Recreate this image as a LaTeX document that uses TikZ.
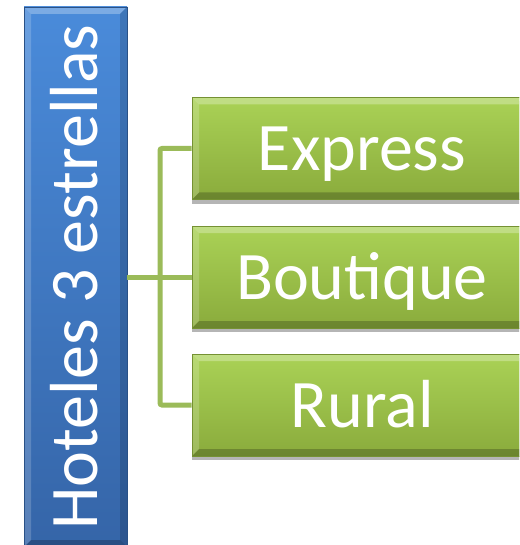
\documentclass[tikz,border=0pt]{standalone}
\usepackage{fontspec}
\setmainfont{Carlito}
\usetikzlibrary{shadows}
\definecolor{blueT}{HTML}{4A8BDA}
\definecolor{blueB}{HTML}{3565A8}
\definecolor{greenT}{HTML}{AAD256}
\definecolor{greenB}{HTML}{8AAB3C}
\definecolor{connC}{HTML}{9BBB59}
\tikzset{
  bevel/.style={path picture={
    \fill[white,opacity=0.28] (path picture bounding box.north west) -- (path picture bounding box.north east)
      -- ([xshift=-7pt,yshift=-7pt]path picture bounding box.north east) -- ([xshift=7pt,yshift=-7pt]path picture bounding box.north west) -- cycle;
    \fill[white,opacity=0.18] (path picture bounding box.north west) -- ([xshift=7pt,yshift=-7pt]path picture bounding box.north west)
      -- ([xshift=7pt,yshift=7pt]path picture bounding box.south west) -- (path picture bounding box.south west) -- cycle;
    \fill[black,opacity=0.22] (path picture bounding box.south west) -- (path picture bounding box.south east)
      -- ([xshift=-7pt,yshift=7pt]path picture bounding box.south east) -- ([xshift=7pt,yshift=7pt]path picture bounding box.south west) -- cycle;
    \fill[black,opacity=0.15] (path picture bounding box.north east) -- ([xshift=-7pt,yshift=-7pt]path picture bounding box.north east)
      -- ([xshift=-7pt,yshift=7pt]path picture bounding box.south east) -- (path picture bounding box.south east) -- cycle;
  }},
  bluebox/.style={rectangle, inner sep=0pt, top color=blueT, bottom color=blueB, draw=blueB!80!black, line width=0.6pt,
    minimum width=103pt, minimum height=540pt, bevel},
  greenbox/.style={rectangle, inner sep=0pt, top color=greenT, bottom color=greenB, draw=greenB!85!black, line width=0.6pt,
    minimum width=340pt, minimum height=102pt, bevel,
    drop shadow={opacity=0.35, shadow xshift=0pt, shadow yshift=-4pt},
    font=\fontsize{68}{70}\selectfont, text=white, text height=44pt, text depth=0pt},
  conn/.style={draw=connC, line width=5pt},
  lbl/.style={font=\fontsize{68}{70}\selectfont, text=white, inner sep=0pt, text height=44pt, text depth=0pt}
}
\begin{document}
\begin{tikzpicture}[x=1pt,y=-1pt]
\useasboundingbox (0,0) rectangle (519,545);
\clip (0,0) rectangle (519,545);
\fill[white] (0,0) rectangle (519,545);
\node[bluebox] (hot) at (75.5,277) {};
\node[lbl, rotate=90] (hott) at (hot.center) {Hoteles 3 estrellas};
\coordinate (j) at (160,277);
\node[greenbox] (exp) at (362,148.5) {Express};
\node[greenbox] (bou) at (362,277) {Boutique};
\node[greenbox] (rur) at (362,405) {Rural};
\draw[conn, rounded corners=2pt] (exp.west) -- (j |- exp.west) -- (j |- rur.west) -- (rur.west);
\draw[conn] (hot.east) -- (bou.west);
\node[greenbox] at (exp) {Express};
\node[greenbox] at (bou) {Boutique};
\node[greenbox] at (rur) {Rural};
\end{tikzpicture}
\end{document}
